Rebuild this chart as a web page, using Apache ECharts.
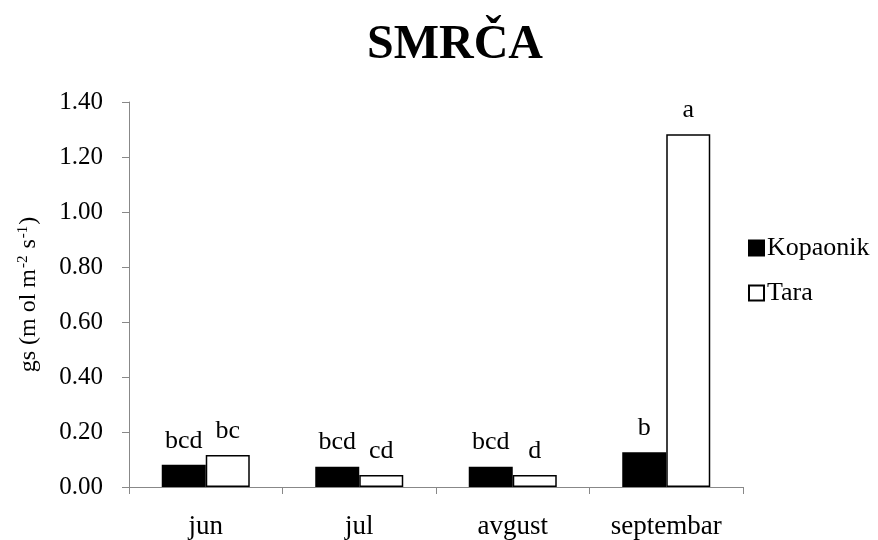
<!DOCTYPE html>
<html>
<head>
<meta charset="utf-8">
<script src="https://cdn.jsdelivr.net/npm/echarts@6/dist/echarts.min.js"></script>
<style>html,body{margin:0;padding:0;background:#fff}#c{width:878px;height:540px}</style>
</head>
<body>
<div id="c"></div>
<script>
const months = ['jun', 'jul', 'avgust', 'septembar'];
const kopaonik = [0.081, 0.074, 0.074, 0.126];
const tara = [0.116, 0.044, 0.044, 1.283];
const kopaonikLetters = ['bcd', 'bcd', 'bcd', 'b'];
const taraLetters = ['bc', 'cd', 'd', 'a'];
const yTicks = { min: 0, max: 1.4, interval: 0.2 };

const serif = '"Liberation Serif", "DejaVu Serif", serif';
const chart = echarts.init(document.getElementById('c'));

function letterLabel(letters) {
  return {
    show: true,
    position: 'top',
    distance: 11,
    fontFamily: serif,
    fontSize: 26,
    color: '#000',
    formatter: p => letters[p.dataIndex]
  };
}

chart.setOption({
  animation: false,
  title: {
    text: 'SMRČA',
    left: 450,
    top: 17,
    textAlign: 'center',
    textStyle: { fontFamily: serif, fontSize: 48, fontWeight: 'bold', color: '#000' }
  },
  legend: {
    orient: 'vertical',
    left: 743,
    top: 230,
    itemWidth: 15,
    itemHeight: 15,
    itemGap: 19,
    icon: 'rect',
    textStyle: { fontFamily: serif, fontSize: 26, color: '#000', padding: [0, 0, 0, -2] },
    data: ['Kopaonik', 'Tara']
  },
  grid: { left: 129, right: 135, top: 102, bottom: 52 },
  xAxis: {
    type: 'category',
    data: months,
    axisLine: { lineStyle: { color: '#888', width: 1 } },
    axisTick: { show: true, length: 7, lineStyle: { color: '#888' } },
    axisLabel: { fontFamily: serif, fontSize: 27, color: '#000', margin: 26 }
  },
  yAxis: {
    type: 'value',
    min: yTicks.min,
    max: yTicks.max,
    interval: yTicks.interval,
    name: '{n|gs (m ol m}{s|-2}{n| s}{s|-1}{n|)}',
    nameLocation: 'middle',
    nameGap: 88,
    nameRotate: 90,
    nameTextStyle: {
      rich: {
        n: { fontFamily: serif, fontSize: 24, color: '#000' },
        s: { fontFamily: serif, fontSize: 15, color: '#000', verticalAlign: 'top', padding: [0, 1, 10, 1] }
      }
    },
    splitLine: { show: false },
    axisLine: { show: true, lineStyle: { color: '#888', width: 1 } },
    axisTick: { show: true, length: 7, lineStyle: { color: '#888' } },
    axisLabel: {
      fontFamily: serif, fontSize: 25, color: '#000', margin: 26,
      formatter: v => v.toFixed(2)
    }
  },
  series: [
    {
      name: 'Kopaonik',
      type: 'bar',
      data: kopaonik,
      barWidth: 44,
      barGap: '0%',
      itemStyle: { color: '#000', borderColor: '#000', borderWidth: 1.5 },
      label: letterLabel(kopaonikLetters)
    },
    {
      name: 'Tara',
      type: 'bar',
      data: tara,
      barWidth: 44,
      itemStyle: { color: '#fff', borderColor: '#000', borderWidth: 1.5 },
      label: letterLabel(taraLetters)
    }
  ]
});
</script>
</body>
</html>
